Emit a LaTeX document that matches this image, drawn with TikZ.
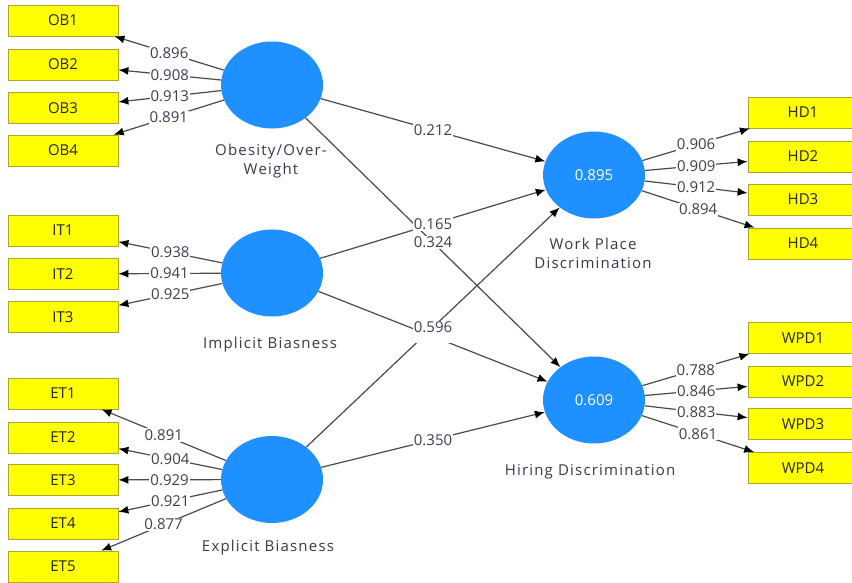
\documentclass[tikz,border=0pt]{standalone}
\usepackage{fontspec}
\setmainfont{Open Sans}
\usetikzlibrary{shapes.geometric,arrows.meta}
\definecolor{lvc}{HTML}{1E90FF}
\definecolor{indc}{HTML}{FFFF00}
\definecolor{indb}{HTML}{A8A830}
\definecolor{txtc}{HTML}{3E3E52}
\definecolor{lblc}{HTML}{38384A}
\definecolor{edgec}{HTML}{4A4A4A}
\begin{document}
\begin{tikzpicture}[x=1pt,y=-1pt,
  font=\fontsize{15}{17}\selectfont,
  indbox/.style={draw=indb, line width=0.8pt, fill=indc, minimum width=110pt, minimum height=31pt, inner sep=0pt, text=black!85},
  lvnode/.style={ellipse, fill=lvc, minimum width=102pt, minimum height=87pt, inner sep=0pt, text=white},
  lvlabel/.style={text=lblc, align=center, font=\fontsize{15}{19}\selectfont\addfontfeatures{LetterSpace=8}},
  link/.style={draw=edgec, line width=1.2pt, -{Latex[color=black,length=10pt,width=8pt]}},
  val/.style={fill=white, text=txtc, inner sep=1pt, midway}
]
\useasboundingbox (0,0) rectangle (852,582);

% indicator boxes left
\node[indbox] (OB1) at (63,20.5) {OB1};
\node[indbox] (OB2) at (63,64.5) {OB2};
\node[indbox] (OB3) at (63,108) {OB3};
\node[indbox] (OB4) at (63,150.5) {OB4};
\node[indbox] (IT1) at (63,230.5) {IT1};
\node[indbox] (IT2) at (63,274) {IT2};
\node[indbox] (IT3) at (63,317) {IT3};
\node[indbox] (ET1) at (63,393.5) {ET1};
\node[indbox] (ET2) at (63,437.5) {ET2};
\node[indbox] (ET3) at (63,480) {ET3};
\node[indbox] (ET4) at (63,523.5) {ET4};
\node[indbox] (ET5) at (63,566.5) {ET5};
% indicator boxes right
\node[indbox] (HD1) at (803,112.5) {HD1};
\node[indbox] (HD2) at (803,156.5) {HD2};
\node[indbox] (HD3) at (803,199.5) {HD3};
\node[indbox] (HD4) at (803,243.5) {HD4};
\node[indbox] (WPD1) at (803,338) {WPD1};
\node[indbox] (WPD2) at (803,381.5) {WPD2};
\node[indbox] (WPD3) at (803,424) {WPD3};
\node[indbox] (WPD4) at (803,468) {WPD4};

% latent variables
\node[lvnode] (OB) at (272,85) {};
\node[lvnode] (IT) at (272,273) {};
\node[lvnode] (ET) at (272,479.5) {};
\node[lvnode] (WP) at (594,175) {0.895};
\node[lvnode] (HI) at (594,400) {0.609};

\node[lvlabel] (OBl) at (271,161) {Obesity/Over-\\Weight};
\node[lvlabel] (ITl) at (270,345) {Implicit Biasness};
\node[lvlabel] (ETl) at (268,548) {Explicit Biasness};
\node[lvlabel] (WPl) at (593,253) {Work Place\\Discrimination};
\node[lvlabel] (HIl) at (590,472) {Hiring Discrimination};

% outer loadings
\draw[link] (OB) -- node[val]{0.896} (OB1);
\draw[link] (OB) -- node[val]{0.908} (OB2);
\draw[link] (OB) -- node[val]{0.913} (OB3);
\draw[link] (OB) -- node[val]{0.891} (OB4);
\draw[link] (IT) -- node[val]{0.938} (IT1);
\draw[link] (IT) -- node[val]{0.941} (IT2);
\draw[link] (IT) -- node[val]{0.925} (IT3);
\draw[link] (ET) -- node[val]{0.891} (ET1);
\draw[link] (ET) -- node[val]{0.904} (ET2);
\draw[link] (ET) -- node[val]{0.929} (ET3);
\draw[link] (ET) -- node[val]{0.921} (ET4);
\draw[link] (ET) -- node[val]{0.877} (ET5);
\draw[link] (WP) -- node[val]{0.906} (HD1);
\draw[link] (WP) -- node[val]{0.909} (HD2);
\draw[link] (WP) -- node[val]{0.912} (HD3);
\draw[link] (WP) -- node[val]{0.894} (HD4);
\draw[link] (HI) -- node[val]{0.788} (WPD1);
\draw[link] (HI) -- node[val]{0.846} (WPD2);
\draw[link] (HI) -- node[val]{0.883} (WPD3);
\draw[link] (HI) -- node[val]{0.861} (WPD4);

% structural paths
\draw[link] (OB) -- (WP);
\draw[link] (OB) -- (HI);
\draw[link] (IT) -- (WP);
\draw[link] (IT) -- (HI);
\draw[link] (ET) -- (WP);
\draw[link] (ET) -- (HI);
% path coefficients on top
\path (OB) -- node[val]{0.212} (WP);
\path (OB) -- node[val]{0.324} (HI);
\path (IT) -- node[val]{0.165} (WP);
\path (IT) -- node[val]{\phantom{0.000}} (HI);
\path (ET) -- node[val]{0.596} (WP);
\path (ET) -- node[val]{0.350} (HI);
\end{tikzpicture}
\end{document}
